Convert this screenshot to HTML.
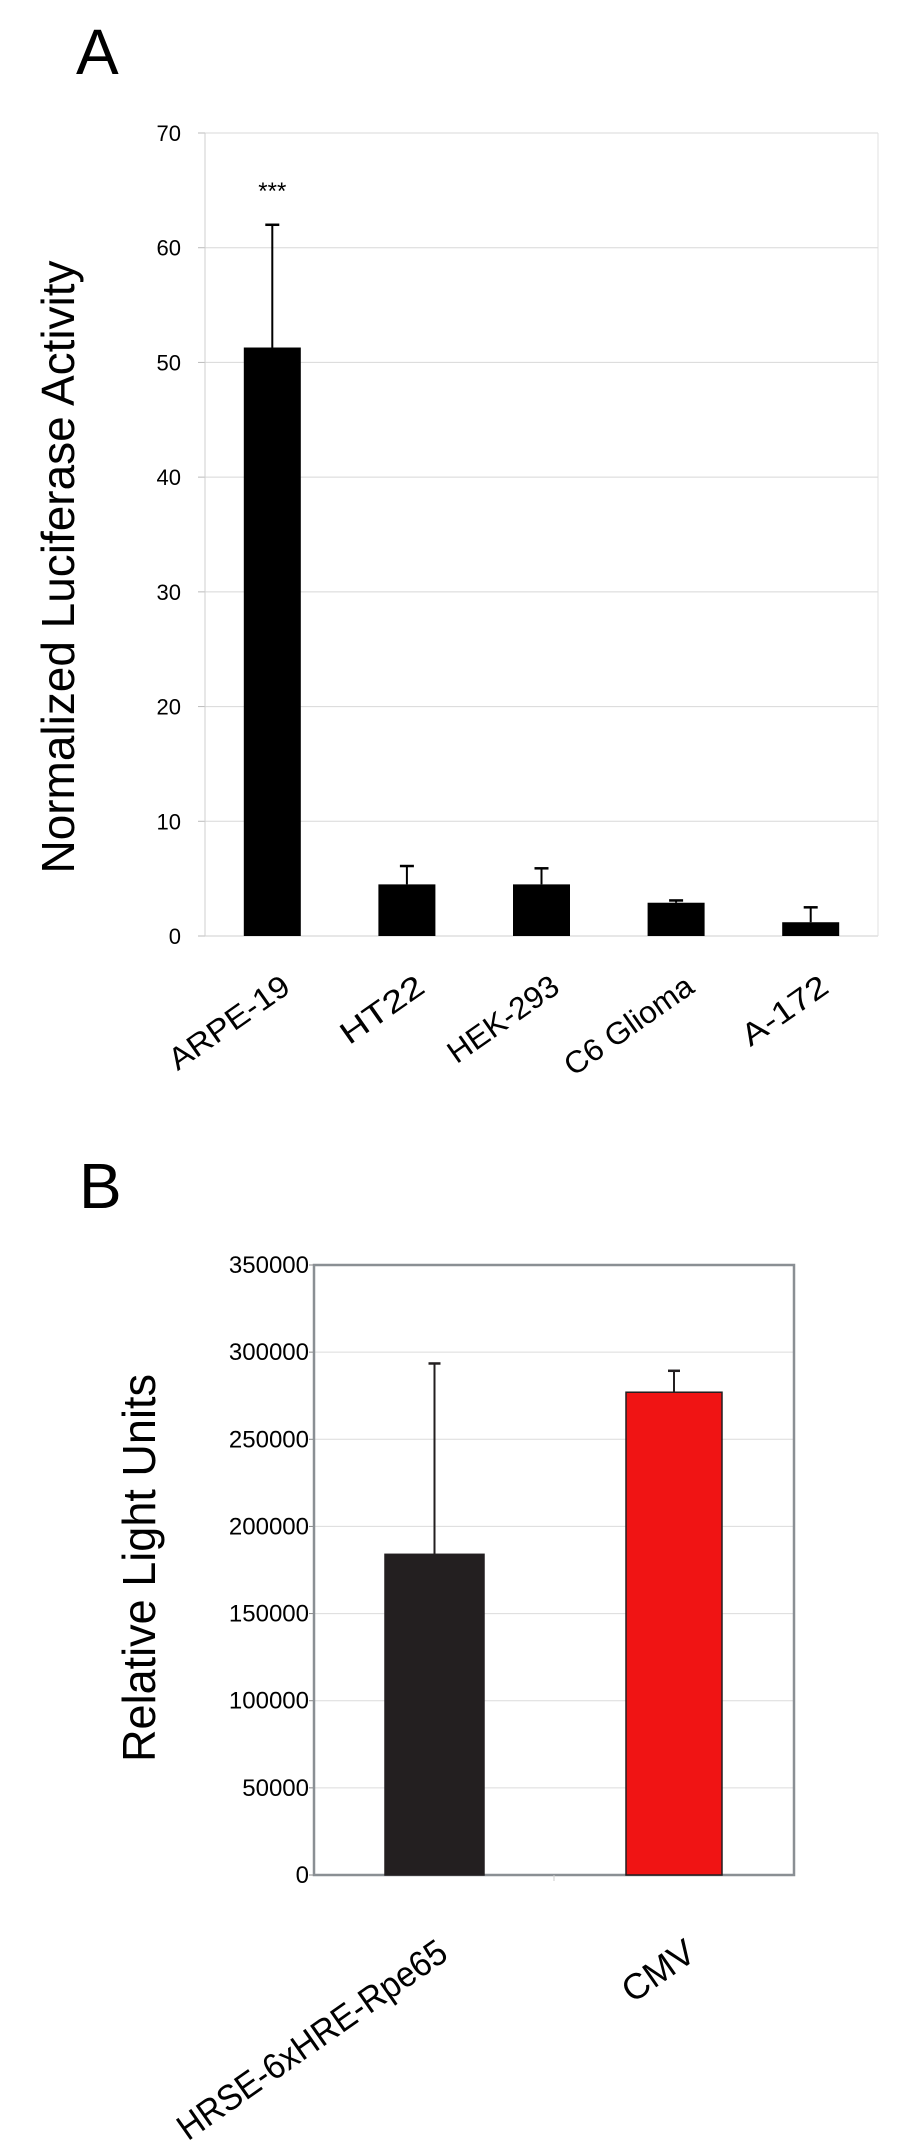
<!DOCTYPE html>
<html><head><meta charset="utf-8">
<style>
html,body{margin:0;padding:0;background:#fff;}
svg{display:block;font-family:"Liberation Sans",sans-serif;}
.cond{font-family:"Liberation Sans Narrow","Liberation Sans",sans-serif;}
</style></head>
<body>
<svg id="fig" width="900" height="2143" viewBox="0 0 900 2143">
  <text x="76" y="74" font-size="64" class="cond">A</text>
  <g id="chartA"></g>
  <text x="79" y="1208" font-size="64" class="cond">B</text>
  <g id="chartB"></g>
</svg>
<script>
const catsA = ["ARPE-19","HT22","HEK-293","C6 Glioma","A-172"];
const valsA = [51.3, 4.5, 4.5, 2.9, 1.2];
const errA = [10.7, 1.6, 1.4, 0.2, 1.3];
const ticksA = [0,10,20,30,40,50,60,70];
const catsB = ["HRSE-6xHRE-Rpe65","CMV"];
const valsB = [184000, 277000];
const errB = [109500, 12300];
const ticksB = [0,50000,100000,150000,200000,250000,300000,350000];

const NS="http://www.w3.org/2000/svg";
function mk(parent,tag,attrs,text){const e=document.createElementNS(NS,tag);for(const k in attrs)e.setAttribute(k,attrs[k]);if(text!==undefined)e.textContent=text;parent.appendChild(e);return e;}
function slug(s){return s.toLowerCase().replace(/\s+/g,'-');}

// Chart A
(function(){
  const g=document.getElementById('chartA');
  const L=205,R=878,T=133,B=936,max=70;
  const y=v=>B-(v/max)*(B-T);
  const step=(R-L)/catsA.length, bw=57;
  const x=i=>L+step*(i+0.5);
  const lens=[140,95,128,150,98];
  ticksA.forEach(t=>{
    if(t>0){const ln=mk(g,'line',{x1:L,x2:R,y1:y(t),y2:y(t),stroke:'#d8d8d8','stroke-width':1});
    
    }
    const tk=mk(g,'line',{x1:L-7,x2:L,y1:y(t),y2:y(t),stroke:'#bbb','stroke-width':1});
    
    
    const tx=mk(g,'text',{x:181,y:y(t)+8,'font-size':22,'text-anchor':'end'},String(t));
    
    
  });
  const ax=mk(g,'line',{x1:L,x2:L,y1:T,y2:B,stroke:'#cfcfcf','stroke-width':1});
  
  
  const bx=mk(g,'line',{x1:L,x2:R,y1:B,y2:B,stroke:'#cfcfcf','stroke-width':1});
  
  
  const rx=mk(g,'line',{x1:R,x2:R,y1:T,y2:B,stroke:'#e0e0e0','stroke-width':1});
  
  
  catsA.forEach((c,i)=>{
    const cx=x(i);
    const top=y(valsA[i]+errA[i]);
    const el=mk(g,'line',{x1:cx,x2:cx,y1:top,y2:y(valsA[i]),stroke:'#000','stroke-width':2});
    
    
    const cap=mk(g,'line',{x1:cx-7,x2:cx+7,y1:top,y2:top,stroke:'#000','stroke-width':2.5});
    
    
    const r=mk(g,'rect',{x:cx-bw/2,y:y(valsA[i]),width:bw,height:B-y(valsA[i]),fill:'#000'});
    
    
    const lx=cx+20, ly=B+55;
    const t=mk(g,'text',{x:lx,y:ly,'font-size':31,'text-anchor':'end',textLength:lens[i],lengthAdjust:'spacingAndGlyphs',transform:`rotate(-35 ${lx} ${ly})`,'class':'cond'},c);
    
    
  });
  const st=mk(g,'text',{x:x(0),y:y(valsA[0]+errA[0])-26,'font-size':24,'text-anchor':'middle'},'***');
  
  
  const yt=mk(g,'text',{x:0,y:0,'font-size':46,'text-anchor':'middle','class':'cond',textLength:613,lengthAdjust:'spacingAndGlyphs',transform:'translate(74 567) rotate(-90)'},'Normalized Luciferase Activity');
  
  
})();

// Chart B
(function(){
  const g=document.getElementById('chartB');
  const L=314,R=794,T=1265,B=1875,max=350000;
  const y=v=>B-(v/max)*(B-T);
  const step=(R-L)/catsB.length;
  const bws=[99,96];
  const xcs=[434.5,674];
  ticksB.forEach(t=>{
    if(t>0&&t<max){const ln=mk(g,'line',{x1:L,x2:R,y1:y(t),y2:y(t),stroke:'#dcdcdc','stroke-width':1});
    
    }
    const tk=mk(g,'line',{x1:L-5,x2:L,y1:y(t),y2:y(t),stroke:'#888','stroke-width':1});
    
    
    const tx=mk(g,'text',{x:309,y:y(t)+8,'font-size':24,'text-anchor':'end'},String(t));
    
    
  });
  const fr=mk(g,'rect',{x:L,y:T,width:R-L,height:B-T,fill:'none',stroke:'#8a8f94','stroke-width':2.5});
  
  
  const sep=mk(g,'line',{x1:L+step,x2:L+step,y1:B,y2:B+6,stroke:'#ccc','stroke-width':1});
  
  
  const fills=['#231f20','#f01414'];
  const lens=[320,80];
  const lxs=[450,698];
  catsB.forEach((c,i)=>{
    const xc=xcs[i];
    const top=y(valsB[i]+errB[i]);
    const el=mk(g,'line',{x1:xc,x2:xc,y1:top,y2:y(valsB[i]),stroke:'#231f20','stroke-width':2});
    
    
    const cap=mk(g,'line',{x1:xc-6,x2:xc+6,y1:top,y2:top,stroke:'#231f20','stroke-width':2.5});
    
    
    const r=mk(g,'rect',{x:xc-bws[i]/2,y:y(valsB[i]),width:bws[i],height:B-y(valsB[i]),fill:fills[i],stroke:'#231f20','stroke-width':1.5});
    
    
    const lx=lxs[i], ly=1958;
    const t=mk(g,'text',{x:lx,y:ly,'font-size':36,'text-anchor':'end',textLength:lens[i],lengthAdjust:'spacingAndGlyphs',transform:`rotate(-35 ${lx} ${ly})`,'class':'cond'},c);
    
    
  });
  const yt=mk(g,'text',{x:0,y:0,'font-size':46,'text-anchor':'middle','class':'cond',textLength:388,lengthAdjust:'spacingAndGlyphs',transform:'translate(155 1568) rotate(-90)'},'Relative Light Units');
  
  
})();
</script>
</body></html>
